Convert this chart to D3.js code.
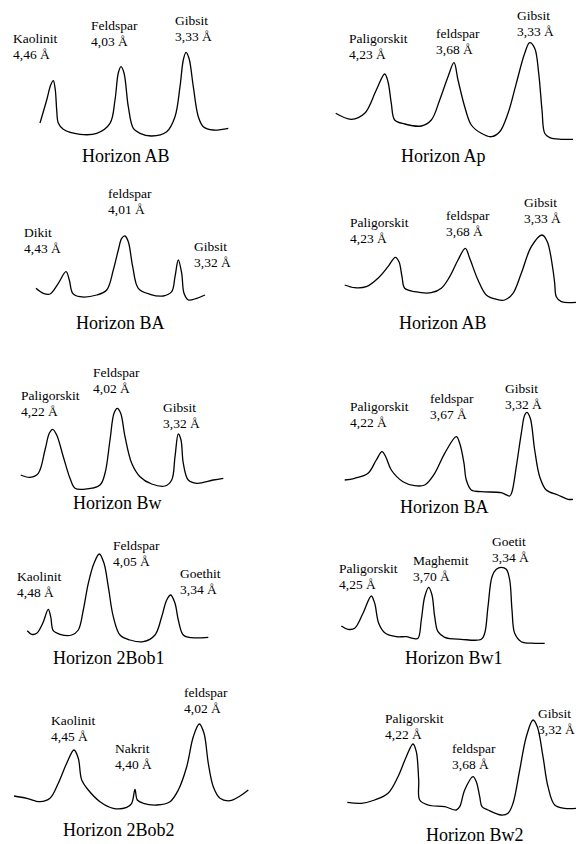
<!DOCTYPE html>
<html><head><meta charset="utf-8">
<script src="https://cdn.jsdelivr.net/npm/d3@7"></script>
<style>body{margin:0;background:#fff}svg{display:block}</style>
</head><body>
<svg id="chart" width="576" height="844"></svg>
<script>
// ---------- DATA ----------
const horizons = ["Horizon AB","Horizon Ap","Horizon BA","Horizon AB","Horizon Bw","Horizon BA","Horizon 2Bob1","Horizon Bw1","Horizon 2Bob2","Horizon Bw2"];
const minerals = [
  ["Kaolinit","Feldspar","Gibsit"],
  ["Paligorskit","feldspar","Gibsit"],
  ["Dikit","feldspar","Gibsit"],
  ["Paligorskit","feldspar","Gibsit"],
  ["Paligorskit","Feldspar","Gibsit"],
  ["Paligorskit","feldspar","Gibsit"],
  ["Kaolinit","Feldspar","Goethit"],
  ["Paligorskit","Maghemit","Goetit"],
  ["Kaolinit","Nakrit","feldspar"],
  ["Paligorskit","feldspar","Gibsit"]
];
const dSpacings = [
  ["4,46","4,03","3,33"],
  ["4,23","3,68","3,33"],
  ["4,43","4,01","3,32"],
  ["4,23","3,68","3,33"],
  ["4,22","4,02","3,32"],
  ["4,22","3,67","3,32"],
  ["4,48","4,05","3,34"],
  ["4,25","3,70","3,34"],
  ["4,45","4,40","4,02"],
  ["4,22","3,68","3,32"]
];
// traced diffractograms: [position, relative intensity]
const traceAB_1 = [[40,17],[46.7,40],[50.7,55],[53.3,59.3],[55.3,50],[56.7,30],[58.3,17],[63.3,10.7],[80,5.7],[96.7,6.7],[110,16.7],[115,40],[118.3,67],[121,73.3],[124,67],[128.3,33.3],[133.3,11.7],[140,6.7],[151.7,4],[166.7,8.3],[175,23.3],[180,53.3],[183.3,80],[186,87.7],[189,81.7],[193.3,53.3],[198.3,23.3],[203.3,13.3],[213.3,10],[228.3,11.7]];
const traceAp = [[5.7,26.7],[21.3,20.7],[34.7,26.7],[46.3,50],[54.7,66],[58,58.3],[61.3,36.7],[64.7,20],[74.7,16],[91.3,14],[101.3,20],[109.7,40],[118,63.3],[124,77.3],[128,60],[134.7,33.3],[141.3,15],[151.3,6.7],[161.3,3.3],[169.7,8.3],[178,26.7],[186.3,56.7],[194.7,86.7],[199.7,97.3],[204.7,91.7],[208.7,66.7],[212,30],[214.7,6.7],[219.7,2.3],[231.3,0.7],[243,0.7]];
const traceBA_1 = [[36,11.7],[43.3,6.7],[50,6],[58.3,16.7],[66,28.3],[69.3,20],[72.7,6.7],[80,3.3],[96.7,5],[106.7,10],[113.3,30],[118.3,50],[121.7,61.7],[125,64],[128.3,58.3],[132.7,33.3],[138.3,11.7],[150,5.7],[163.3,4],[171.7,8.3],[175,23.3],[178.3,40],[181.7,26.7],[184,6.7],[188.3,0],[196.7,1.7],[205,5]];
const traceAB_2 = [[14.7,20],[24.7,17.3],[36.3,18.3],[48,26.7],[58,38.3],[65.3,47.7],[69,43.3],[72,28.3],[74.7,16.7],[84.7,13.3],[101.3,12.3],[111.3,16.7],[119.7,28.3],[128,45],[135.3,56.7],[139.7,46.7],[148,25],[156.3,10],[166.3,5.7],[174.7,5],[183,11.7],[191.3,31.7],[201.3,58.3],[212,70],[217.3,63.3],[223,35],[224.7,21.7],[226.3,8.3],[231.3,3.3],[246,2.7]];
const traceBw = [[20.7,15],[30,12.7],[38.3,16.7],[45,40],[49.3,56.7],[52.7,60.7],[56.7,55],[63.3,33.3],[70,11.7],[75,1.7],[83.3,0.7],[100,5],[105,16.7],[110,50],[114,76.7],[117.3,81.7],[120.7,76.7],[125,53.3],[131.7,26.7],[140,13.3],[151.7,6],[165,4],[171.7,10],[175,33.3],[178.3,56],[181,50],[183.3,26.7],[188.3,10],[196.7,6.7],[213.3,10],[223.3,11.7]];
const traceBA_2 = [[14.7,20],[24.7,21.7],[38,26.7],[46.3,40],[52,48.3],[55.7,43.3],[61.3,30],[73,18.3],[84.7,14.3],[94.7,15],[104.7,26.7],[114.7,46.7],[126.3,63.3],[129.7,56.7],[134,36.7],[136.3,20],[141.3,10],[151.3,8.3],[171.3,7.3],[179.7,4],[182,8.3],[186.3,33.3],[191.3,66.7],[194.7,85],[197,87.7],[200.3,81.7],[204.7,50],[209.7,23.3],[216.3,10],[228,5],[238,0.7],[243,0.7]];
const trace2Bob1 = [[27.3,11.3],[31.7,7.7],[36.7,8.7],[42.7,18.7],[48.3,32.7],[50.7,25.3],[53.3,11.3],[60,7.7],[71.7,7],[78.3,12],[83.3,32],[88.3,58.7],[94,78.7],[99.3,88],[104,78.7],[108.3,55.3],[113.3,25.3],[120,7],[130,2],[143.3,0.3],[155,7],[161.7,25.3],[166.7,42],[170.7,47],[175,38.7],[178.3,22],[183.3,7],[191.7,4.3],[208.3,4.7]];
const traceBw1 = [[11.3,19],[18,15.7],[24.7,16.7],[33,31.7],[41.3,49],[44.7,41.7],[48.7,21.7],[54.7,12.3],[66.3,8.3],[76.3,8.3],[83,6.7],[88,6.7],[91.3,25],[94.7,48.3],[98.7,57.7],[102,50],[104.7,28.3],[108,13.3],[114.7,7.7],[131.3,5.7],[151.3,5.7],[154.7,11.7],[158,38.3],[162,68.3],[166.3,75.7],[171.3,77.7],[176.3,75.7],[179.7,65],[182,35],[184.7,11.7],[191.3,3.3],[204.7,1.7],[214.7,1.7]];
const trace2Bob2 = [[14,14],[26.7,11.7],[40,8.3],[50,11.7],[58.3,26.7],[66.7,46.7],[74,60],[78.3,51.7],[81.7,30],[88.3,20],[100,8.3],[113.3,1.7],[126.7,2.7],[131.7,6.7],[135,20.7],[137.3,10],[143.3,6.7],[156.7,5],[170,8.3],[178.3,20],[186.7,43.3],[193.3,73.3],[199.3,86],[204,76.7],[208.3,46.7],[213.3,23.3],[220,11.7],[230,9.3],[240,14],[248.3,20]];
const traceBw2 = [[17.3,12.7],[31.3,11.7],[44.7,15],[58,21.7],[68,38.3],[76.3,58.3],[83,71],[86.3,63.3],[88.7,35],[89.7,15],[98,10],[114.7,8.3],[126.3,5],[129.7,8.3],[134.7,25],[143,38.3],[146.3,33.3],[149.7,18.3],[152,8.3],[158,5],[171.3,0],[178,1.7],[183,11.7],[189.7,45],[196.3,78.3],[203,95],[207.3,88.3],[213,58.3],[218,28.3],[224.7,10],[234.7,6.7],[246,6.7]];
const traces = [traceAB_1, traceAp, traceBA_1, traceAB_2, traceBw, traceBA_2, trace2Bob1, traceBw1, trace2Bob2, traceBw2];

// ---------- LAYOUT (positions only) ----------
// panel frame: left edge, baseline; title position; label anchors (x, first-line baseline)
const layout = [
  {x0:0,   yb:140, title:[82,162],  labels:[[13,43],[91,30],[175,25]]},
  {x0:330, yb:140, title:[401,162], labels:[[349,43],[436,38],[517,20]]},
  {x0:0,   yb:300, title:[76,329],  labels:[[24,237],[108,198],[194,251]]},
  {x0:330, yb:305, title:[399,329], labels:[[350,227],[446,220],[524,207]]},
  {x0:0,   yb:490, title:[73,509],  labels:[[21,400],[93,377],[163,412]]},
  {x0:330, yb:500, title:[400,513], labels:[[350,411],[430,403],[505,393]]},
  {x0:0,   yb:642, title:[53,664],  labels:[[17,581],[113,550],[180,578]]},
  {x0:330, yb:645, title:[405,664], labels:[[339,573],[413,565],[492,546]]},
  {x0:0,   yb:810, title:[63,836],  labels:[[51,725],[115,753],[184,697]]},
  {x0:330, yb:815, title:[426,841], labels:[[385,723],[452,753],[538,718]]}
];
const lineGap = 16;

// ---------- DRAW ----------
const svg = d3.select("#chart");
const font = "'Liberation Serif','Times New Roman',serif";

traces.forEach((trace, i) => {
  const L = layout[i];
  const x = d3.scaleLinear().domain([0, 250]).range([L.x0, L.x0 + 250]);
  const y = d3.scaleLinear().domain([0, 100]).range([L.yb, L.yb - 100]);
  const g = svg.append("g");
  g.append("path")
    .datum(trace)
    .attr("fill", "none")
    .attr("stroke", "#000")
    .attr("stroke-width", 1.3)
    .attr("stroke-linejoin", "round")
    .attr("d", d3.line().x(d => x(d[0])).y(d => y(d[1])).curve(d3.curveCatmullRom.alpha(0.5)));

  minerals[i].forEach((m, j) => {
    const [lx, ly] = L.labels[j];
    const t = g.append("text")
      .attr("x", lx).attr("y", ly)
      .attr("font-family", font).attr("font-size", 13.5).attr("fill", "#000");
    t.append("tspan").attr("x", lx).attr("y", ly).text(m);
    t.append("tspan").attr("x", lx).attr("y", ly + lineGap).text(dSpacings[i][j] + " Å");
  });

  g.append("text")
    .attr("x", L.title[0]).attr("y", L.title[1])
    .attr("font-family", font).attr("font-size", 18).attr("fill", "#000")
    .text(horizons[i]);
});
</script>
</body></html>
